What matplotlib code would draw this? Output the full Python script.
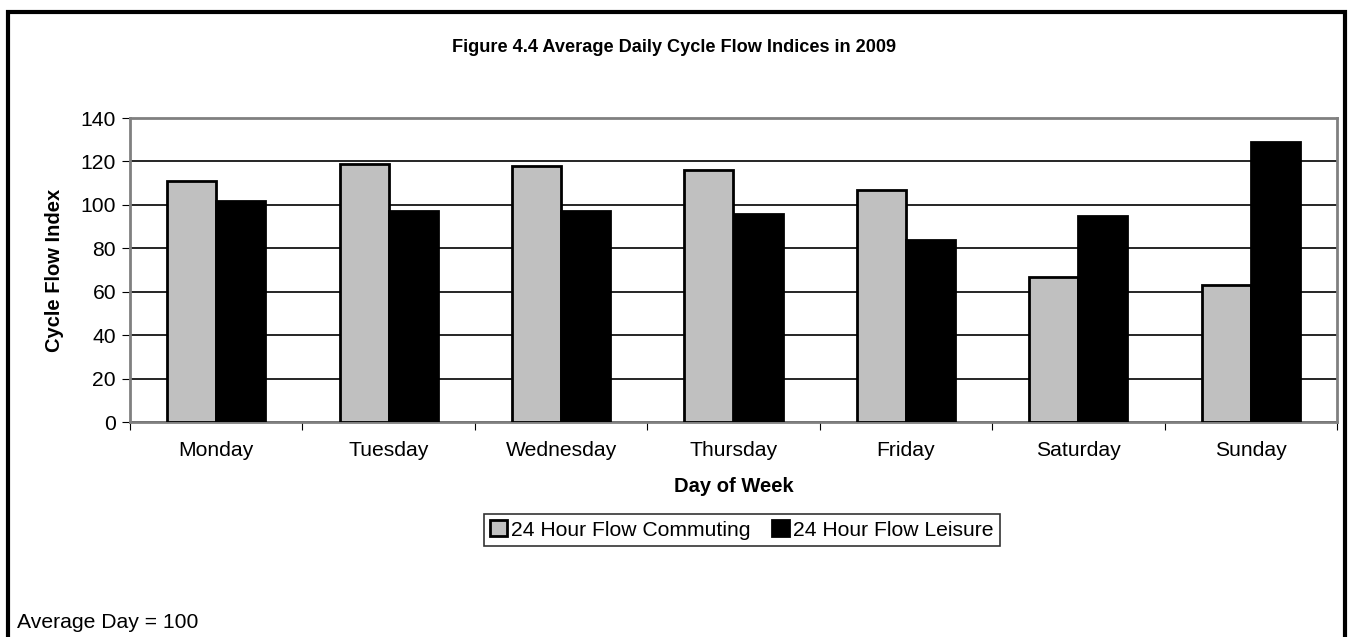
import matplotlib.pyplot as plt
import numpy as np
from matplotlib.patches import Rectangle

days = ["Monday", "Tuesday", "Wednesday", "Thursday", "Friday", "Saturday", "Sunday"]
commuting = [111, 119, 118, 116, 107, 67, 63]
leisure = [102, 97, 97, 96, 84, 95, 129]

plt.rcParams["font.family"] = ["Liberation Sans", "DejaVu Sans"]
fs = 15.2

fig = plt.figure(figsize=(13.48, 6.37), dpi=100)
ax = fig.add_axes([130 / 1348, 1 - 422 / 637, (1337 - 130) / 1348, (422 - 118) / 637])

x = np.arange(len(days))
w = 0.285
ax.bar(x - w / 2, commuting, w, color="#c0c0c0", edgecolor="black", linewidth=2,
       label="24 Hour Flow Commuting", zorder=3)
ax.bar(x + w / 2, leisure, w, color="black", edgecolor="black", linewidth=2,
       label="24 Hour Flow Leisure", zorder=3)

ax.set_xlim(-0.5, len(days) - 0.5)
ax.set_ylim(0, 140)
ax.set_yticks(range(0, 141, 20))
ax.set_xticks(np.arange(-0.5, len(days), 1))
ax.set_xticklabels([])
ax.set_xticks(x, minor=True)
ax.set_xticklabels(days, minor=True)
ax.tick_params(axis="x", which="minor", length=0, pad=14, labelsize=fs)
ax.tick_params(axis="x", which="major", length=6, direction="out", color="black")
ax.tick_params(axis="y", length=6, direction="out", labelsize=fs, pad=4)
ax.yaxis.grid(True, color="black", linewidth=1.2, zorder=0)
for s in ax.spines.values():
    s.set_color("#808080")
    s.set_linewidth(2)

ax.set_xlabel("Day of Week", fontsize=14.5, fontweight="bold", labelpad=12)
ax.set_ylabel("Cycle Flow Index", fontsize=14.5, fontweight="bold", labelpad=12)

fig.text(0.5, 1 - 47 / 637, "Figure 4.4 Average Daily Cycle Flow Indices in 2009",
         ha="center", va="center", fontsize=13.1, fontweight="bold")

leg = fig.legend(loc="center", bbox_to_anchor=(742 / 1348, 1 - 530 / 637), ncol=2,
                 frameon=True, fancybox=False, fontsize=fs, handlelength=0.8,
                 handleheight=0.8, handletextpad=0.2, columnspacing=1.0,
                 borderpad=0.3)
leg.get_frame().set_edgecolor("black")
leg.get_frame().set_linewidth(1.2)

fig.text(17 / 1348, 1 - 623 / 637, "Average Day = 100", ha="left", va="center", fontsize=fs)

fig.patches.append(Rectangle((8 / 1348, -0.1), (1345 - 8) / 1348, 1.1 - 12 / 637,
                             transform=fig.transFigure, fill=False, edgecolor="black",
                             linewidth=3, figure=fig))

fig.savefig("out.png", dpi=100)
